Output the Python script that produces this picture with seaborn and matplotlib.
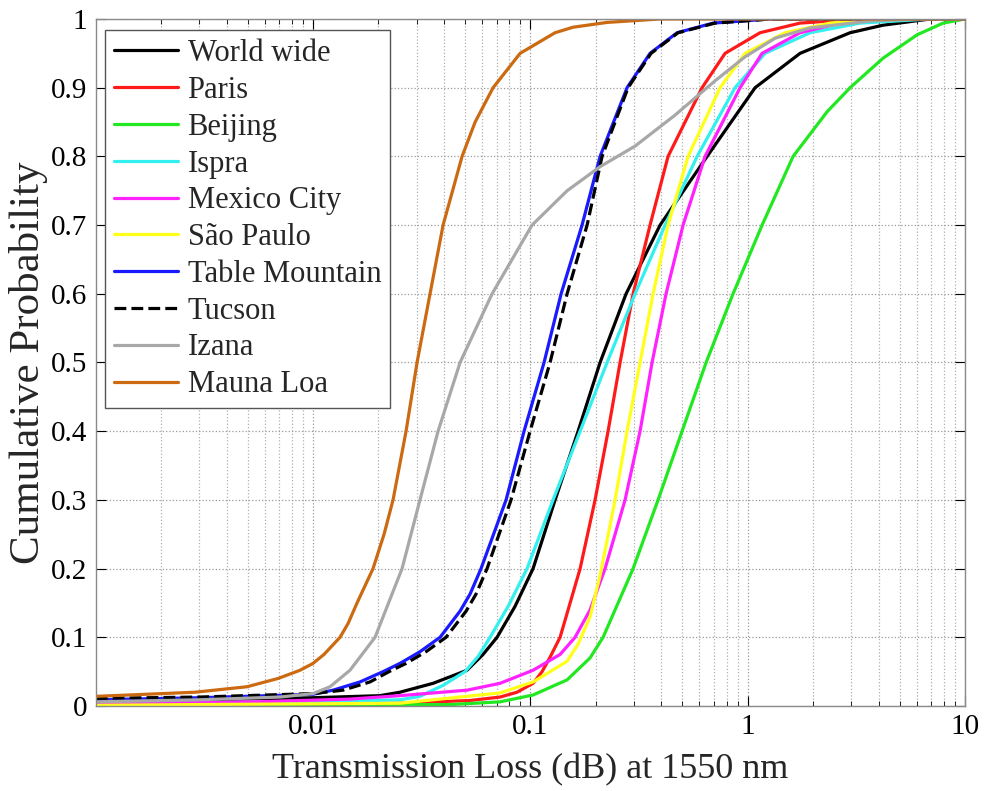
import matplotlib
matplotlib.use("Agg")
import matplotlib.pyplot as plt
import matplotlib.ticker as mticker
import seaborn as sns

# ---- data (transmission loss in dB, cumulative probability) ----
series_names = ["World wide", "Paris", "Beijing", "Ispra", "Mexico City",
                "São Paulo", "Table Mountain", "Tucson", "Izana", "Mauna Loa"]

world_x = [0.001, 0.00302, 0.01, 0.0203, 0.0251, 0.0357, 0.0511, 0.06057, 0.07027, 0.085,
           0.1029, 0.130, 0.1658, 0.2093, 0.2757, 0.3953, 0.6505, 1.082, 1.742, 2.96, 4.2, 6.91, 10.0]
world_y = [0.007, 0.009, 0.012, 0.015, 0.02, 0.033, 0.052, 0.075, 0.1, 0.145,
           0.2, 0.3, 0.4, 0.5, 0.6, 0.7, 0.8, 0.9, 0.95, 0.98, 0.991, 1.0, 1.0]

paris_x = [0.001, 0.0251, 0.0528, 0.0726, 0.0868, 0.1029, 0.1132, 0.1232, 0.137, 0.1476, 0.1694,
           0.1985, 0.2278, 0.2587, 0.297, 0.3554, 0.4301, 0.6168, 0.787, 1.14, 1.742, 3.29, 10.0]
paris_y = [0.002, 0.004, 0.008, 0.013, 0.02, 0.033, 0.05, 0.071, 0.1, 0.135, 0.2,
           0.3, 0.4, 0.5, 0.6, 0.7, 0.8, 0.9, 0.95, 0.98, 0.994, 1.0, 1.0]

beijing_x = [0.001, 0.0427, 0.0726, 0.1029, 0.1476, 0.1883, 0.2161, 0.297, 0.387, 0.499,
             0.6437, 0.8565, 1.165, 1.618, 2.32, 2.96, 4.199, 6.022, 7.93, 10.0]
beijing_y = [0.001, 0.002, 0.006, 0.016, 0.038, 0.07, 0.1, 0.2, 0.3, 0.4,
             0.5, 0.6, 0.7, 0.8, 0.865, 0.9, 0.943, 0.977, 0.994, 1.0]

ispra_x = [0.001, 0.00513, 0.01479, 0.0251, 0.03105, 0.03963, 0.05006, 0.05745, 0.06527, 0.079,
           0.09656, 0.1272, 0.1694, 0.2254, 0.3033, 0.4168, 0.5851, 0.875, 1.202, 1.937, 3.29,
           6.91, 10.0]
ispra_y = [0.004, 0.005, 0.007, 0.009, 0.014, 0.03, 0.05, 0.072, 0.1, 0.145,
           0.2, 0.3, 0.4, 0.5, 0.6, 0.7, 0.8, 0.9, 0.95, 0.98, 0.994,
           1.0, 1.0]

mexico_x = [0.001, 0.00541, 0.01479, 0.0251, 0.05114, 0.07255, 0.1029, 0.137, 0.1606, 0.1883,
            0.2207, 0.2728, 0.3197, 0.3631, 0.4211, 0.5043, 0.6368, 0.9226, 1.165, 1.742, 2.662,
            4.068, 10.0]
mexico_y = [0.003, 0.006, 0.01, 0.015, 0.023, 0.033, 0.052, 0.075, 0.1, 0.14,
            0.2, 0.3, 0.4, 0.5, 0.6, 0.7, 0.8, 0.9, 0.95, 0.98, 0.994,
            1.0, 1.0]

saopaulo_x = [0.001, 0.0251, 0.07255, 0.1029, 0.1476, 0.1658, 0.1883, 0.2093, 0.2454, 0.2786,
              0.3197, 0.367, 0.4301, 0.5318, 0.7464, 0.9728, 1.486, 2.394, 4.068, 10.0]
saopaulo_y = [0.001, 0.004, 0.019, 0.035, 0.065, 0.09, 0.13, 0.19, 0.3, 0.4,
              0.5, 0.6, 0.7, 0.8, 0.9, 0.95, 0.98, 0.994, 1.0, 1.0]

table_x = [0.001, 0.00302, 0.01, 0.01236, 0.01645, 0.021, 0.02512, 0.03105, 0.03841, 0.04745,
           0.0528, 0.0593, 0.0773, 0.09354, 0.1156, 0.1385, 0.1729, 0.2093, 0.2786, 0.3554,
           0.4733, 0.693, 1.268, 10.0]
table_y = [0.009, 0.012, 0.017, 0.023, 0.035, 0.05, 0.062, 0.079, 0.1, 0.138,
           0.163, 0.2, 0.3, 0.4, 0.5, 0.6, 0.7, 0.8, 0.9, 0.95,
           0.98, 0.994, 1.0, 1.0]

tucson_x = [0.001, 0.00302, 0.01, 0.01374, 0.01829, 0.02238, 0.0268, 0.0331, 0.04093, 0.0506,
            0.05625, 0.0632, 0.0815, 0.0997, 0.1232, 0.1476, 0.1824, 0.2138, 0.2816, 0.3593,
            0.4783, 0.7079, 1.268, 10.0]
tucson_y = [0.011, 0.013, 0.018, 0.023, 0.035, 0.05, 0.062, 0.079, 0.1, 0.138,
            0.163, 0.2, 0.3, 0.4, 0.5, 0.6, 0.7, 0.8, 0.9, 0.95,
            0.98, 0.994, 1.0, 1.0]

izana_x = [0.001, 0.00302, 0.00705, 0.01, 0.01197, 0.01479, 0.0168, 0.01929, 0.02568, 0.03105,
           0.03761, 0.04748, 0.06667, 0.1018, 0.1476, 0.2093, 0.3033, 0.4629, 0.7079, 0.9728,
           1.337, 1.937, 3.655, 6.216, 10.0]
izana_y = [0.006, 0.009, 0.013, 0.018, 0.028, 0.052, 0.075, 0.1, 0.2, 0.3,
           0.4, 0.5, 0.6, 0.7, 0.75, 0.785, 0.815, 0.86, 0.91, 0.945,
           0.972, 0.987, 0.997, 1.0, 1.0]

mauna_x = [0.001, 0.00286, 0.00497, 0.0069, 0.00871, 0.01, 0.01123, 0.01331, 0.01449, 0.01594,
           0.01888, 0.02122, 0.02334, 0.02679, 0.0301, 0.03454, 0.03966, 0.0485, 0.0557, 0.06737,
           0.0897, 0.1299, 0.1571, 0.2254, 0.3953, 10.0]
mauna_y = [0.014, 0.02, 0.028, 0.04, 0.052, 0.062, 0.075, 0.1, 0.12, 0.15,
           0.2, 0.25, 0.3, 0.4, 0.5, 0.6, 0.7, 0.8, 0.85, 0.9,
           0.95, 0.98, 0.988, 0.995, 1.0, 1.0]

xs = [world_x, paris_x, beijing_x, ispra_x, mexico_x, saopaulo_x, table_x, tucson_x, izana_x, mauna_x]
ys = [world_y, paris_y, beijing_y, ispra_y, mexico_y, saopaulo_y, table_y, tucson_y, izana_y, mauna_y]
colors = ["#000000", "#ff1a1a", "#22e822", "#33f0f0", "#ff22ff",
          "#ffff1a", "#1a1aff", "#000000", "#a8a8a8", "#cc6a12"]
styles = ["-", "-", "-", "-", "-", "-", "-", "--", "-", "-"]

x_ticks = [0.01, 0.1, 1, 10]
x_ticklabels = ["0.01", "0.1", "1", "10"]
y_ticks = [0, 0.1, 0.2, 0.3, 0.4, 0.5, 0.6, 0.7, 0.8, 0.9, 1.0]
y_ticklabels = ["0", "0.1", "0.2", "0.3", "0.4", "0.5", "0.6", "0.7", "0.8", "0.9", "1"]

# ---- style ----
sns.set_style("ticks")
plt.rcParams["font.family"] = ["Liberation Serif", "DejaVu Serif"]

fig = plt.figure(figsize=(9.84, 7.91), dpi=100)
ax = fig.add_axes([0.0973, 0.1075, 0.8834, 0.8685])

for name, x, y, c, ls in zip(series_names, xs, ys, colors, styles):
    sns.lineplot(x=x, y=y, ax=ax, color=c, linestyle=ls, linewidth=2.3,
                 label=name, sort=False, estimator=None)

ax.set_xscale("log")
ax.set_xlim(0.001, 10)
ax.set_ylim(0, 1)
ax.set_xticks(x_ticks)
ax.set_xticklabels(x_ticklabels)
ax.xaxis.set_minor_locator(mticker.LogLocator(base=10, subs=range(2, 10), numticks=20))
ax.xaxis.set_minor_formatter(mticker.NullFormatter())
ax.set_yticks(y_ticks)
ax.set_yticklabels(y_ticklabels)

ax.grid(True, which="major", axis="both", linestyle=":", color="#9a9a9a", linewidth=0.9)
ax.grid(True, which="minor", axis="x", linestyle=":", color="#b0b0b0", linewidth=0.9)
ax.set_axisbelow(True)

ax.tick_params(which="both", direction="in", top=True, right=True, colors="#000000")
ax.tick_params(which="major", length=7, width=0.8, labelsize=21, pad=6)
ax.tick_params(which="minor", length=3.5, width=0.6)
for sp in ax.spines.values():
    sp.set_color("#8a8a8a")
    sp.set_linewidth(1.0)

ax.set_xlabel("Transmission Loss (dB) at 1550 nm", fontsize=26, labelpad=9)
ax.set_ylabel("Cumulative Probability", fontsize=31, labelpad=2)

leg = ax.legend(loc="upper left", bbox_to_anchor=(0.0107, 0.984), borderaxespad=0,
                fontsize=22, frameon=True, fancybox=False, framealpha=1,
                edgecolor="#555555", labelspacing=0.255, handlelength=2.1,
                handletextpad=0.3, borderpad=0.3)
leg.get_frame().set_linewidth(1.0)

fig.savefig("out.png", dpi=100)
